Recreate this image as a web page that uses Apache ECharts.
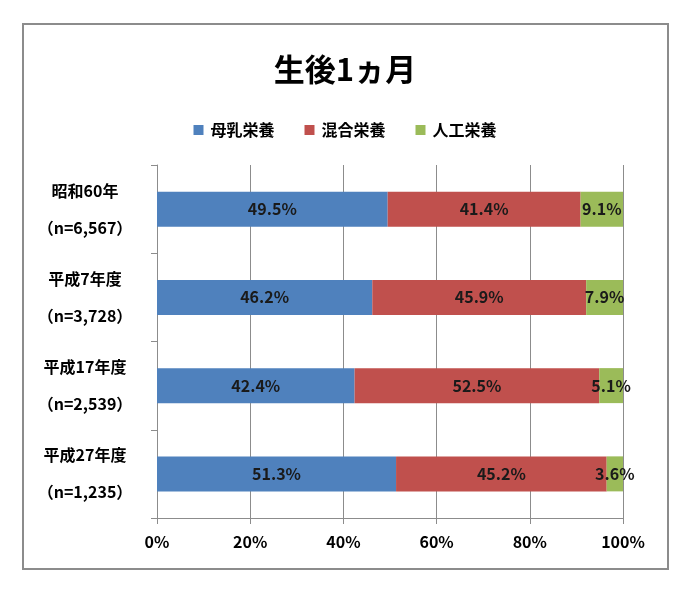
<!DOCTYPE html>
<html>
<head>
<meta charset="utf-8">
<script src="https://cdn.jsdelivr.net/npm/echarts@6/dist/echarts.min.js"></script>
<style>
  html, body { margin: 0; padding: 0; background: #fff; }
  #frame { position: absolute; left: 22px; top: 23px; width: 643px; height: 543px; border: 2px solid #8c8c8c; }
  #main { width: 690px; height: 591px; }
</style>
</head>
<body>
<div id="frame"></div>
<div id="main"></div>
<script>
// 年度（上から順）
var categories = ['昭和60年\n（n=6,567）', '平成7年度\n（n=3,728）', '平成17年度\n（n=2,539）', '平成27年度\n（n=1,235）']
var seriesNames = ['母乳栄養', '混合栄養', '人工栄養']
var breastMilk = [49.5, 46.2, 42.4, 51.3]
var mixed = [41.4, 45.9, 52.5, 45.2]
var formula = [9.1, 7.9, 5.1, 3.6]
var colors = ['#4F81BD', '#C0504D', '#9BBB59']

var font = '"Noto Sans CJK JP", "Noto Sans", sans-serif'

function makeSeries(name, data, color) {
  return {
    name: name,
    type: 'bar',
    stack: 'total',
    barWidth: 35,
    data: data,
    itemStyle: { color: color },
    label: {
      show: true,
      position: 'inside',
      formatter: function (p) { return p.value.toFixed(1) + '%' },
      color: '#1a1a1a',
      fontFamily: font,
      fontWeight: 'bold',
      fontSize: 16
    }
  }
}

var chart = echarts.init(document.getElementById('main'))
var option = {
  animation: false,
  title: {
    text: '生後1ヵ月',
    left: 'center',
    top: 49,
    textStyle: { fontFamily: font, fontWeight: 'bold', fontSize: 31, color: '#000' }
  },
  legend: {
    data: seriesNames,
    top: 117,
    left: 'center',
    itemWidth: 10,
    itemHeight: 10,
    itemGap: 30,
    icon: 'rect',
    textStyle: { fontFamily: font, fontWeight: 'bold', fontSize: 16, color: '#000', padding: [0, 0, 0, 2] }
  },
  grid: { left: 157, right: 67, top: 165, bottom: 73, containLabel: false },
  xAxis: {
    type: 'value',
    min: 0,
    max: 100,
    interval: 20,
    axisLine: { show: true, lineStyle: { color: '#8c8c8c' } },
    axisTick: { show: true, length: 6, lineStyle: { color: '#8c8c8c' } },
    splitLine: { show: true, lineStyle: { color: '#8c8c8c' } },
    axisLabel: {
      formatter: '{value}%',
      margin: 16,
      color: '#000',
      fontFamily: font,
      fontWeight: 'bold',
      fontSize: 16
    }
  },
  yAxis: {
    type: 'category',
    inverse: true,
    data: categories,
    axisLine: { show: true, lineStyle: { color: '#8c8c8c' } },
    axisTick: { show: true, length: 6, lineStyle: { color: '#8c8c8c' } },
    axisLabel: {
      margin: 72,
      align: 'center',
      lineHeight: 37,
      color: '#000',
      fontFamily: font,
      fontWeight: 'bold',
      fontSize: 16
    }
  },
  series: [
    makeSeries(seriesNames[0], breastMilk, colors[0]),
    makeSeries(seriesNames[1], mixed, colors[1]),
    makeSeries(seriesNames[2], formula, colors[2])
  ]
}
chart.setOption(option)
</script>
</body>
</html>
